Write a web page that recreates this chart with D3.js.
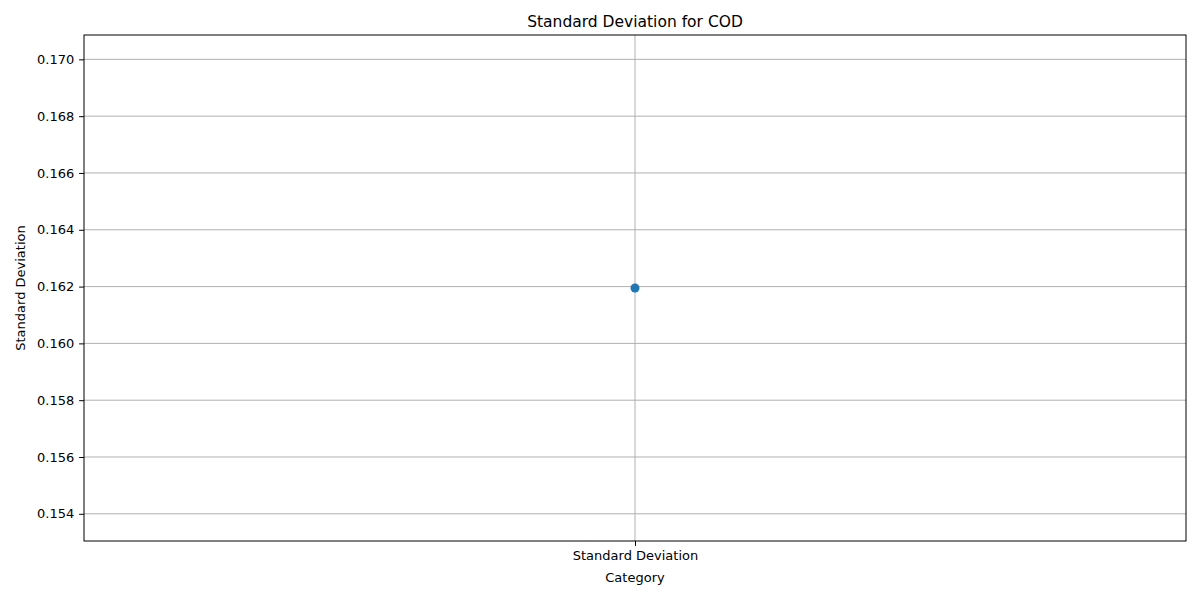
<!DOCTYPE html>
<html><head><meta charset="utf-8">
<script src="https://cdn.jsdelivr.net/npm/d3@7"></script>
<style>body{margin:0;background:#fff}text{font-family:"DejaVu Sans",sans-serif}</style>
</head><body><svg id="c" width="1200" height="600"></svg>
<script>
const categories = ["Standard Deviation"];
const values = [0.16195];
const yTicks = [0.154,0.156,0.158,0.160,0.162,0.164,0.166,0.168,0.170];
const v = values[0], lo = v*0.95, hi = v*1.05, m = (hi-lo)*0.05;
const svg = d3.select("#c");
const L=84,R=1186,T=35,B=541;
const x = d3.scalePoint().domain(categories).range([L,R]).padding(0.5);
const y = d3.scaleLinear().domain([lo-m,hi+m]).range([B,T]);
const g = svg.append("g");
yTicks.forEach(t=>{g.append("line").attr("x1",L).attr("x2",R).attr("y1",y(t)).attr("y2",y(t)).attr("stroke","#b0b0b0").attr("stroke-width",1);});
categories.forEach(c=>{g.append("line").attr("x1",x(c)).attr("x2",x(c)).attr("y1",T).attr("y2",B).attr("stroke","#b0b0b0").attr("stroke-width",1);});
const ya = svg.append("g").attr("transform",`translate(${L},0)`).call(d3.axisLeft(y).tickValues(yTicks).tickFormat(d3.format(".3f")).tickSize(4.9).tickPadding(4.9));
const xa = svg.append("g").attr("transform",`translate(0,${B})`).call(d3.axisBottom(x).tickSize(4.9).tickPadding(4.9));
[ya,xa].forEach(a=>{a.select(".domain").remove();a.selectAll("text").style("font-size","13px").attr("fill","#000").style("font-family","DejaVu Sans");a.selectAll("line").attr("stroke","#000");});
svg.append("rect").attr("x",L).attr("y",T).attr("width",R-L).attr("height",B-T).attr("fill","none").attr("stroke","#000").attr("stroke-width",1);
svg.selectAll("circle.pt").data(values).enter().append("circle").attr("cx",(d,i)=>x(categories[i])).attr("cy",d=>y(d)).attr("r",4.5).attr("fill","#1f77b4");
svg.append("text").attr("x",(L+R)/2).attr("y",T-8).attr("text-anchor","middle").style("font-size","15.5px").text("Standard Deviation for COD");
svg.append("text").attr("x",(L+R)/2).attr("y",582).attr("text-anchor","middle").style("font-size","13px").text("Category");
svg.append("text").attr("transform",`translate(25,${(T+B)/2}) rotate(-90)`).attr("text-anchor","middle").style("font-size","13px").text("Standard Deviation");
</script></body></html>
